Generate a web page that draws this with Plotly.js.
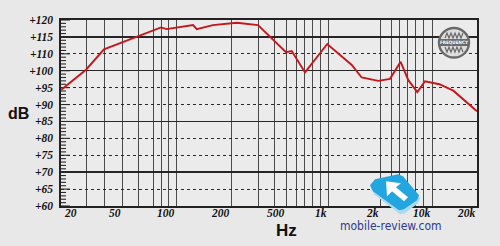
<!DOCTYPE html>
<html><head><meta charset="utf-8">
<script src="https://cdn.plot.ly/plotly-3.0.1.min.js"></script>
<style>html,body{margin:0;padding:0;background:#e8e8e8;}#chart{width:500px;height:246px;}</style>
</head><body><div id="chart"></div>
<script>
// ---- data ----
const freqHz  = [20,30,40,60,80,88,100,124,130,159,218,300,500,555,712,990,1372,1567,1955,2890,4190,5150,6520,8400,11190,13880,20000];
const levelDb = [94.3,100.6,111.3,115.3,117.8,117.3,117.7,118.5,117.3,118.5,119.2,118.5,110.5,110.8,99.5,112.9,103.4,98.0,97.0,97.6,105.3,97.2,93.7,96.9,96.0,94.1,88.0];

// printed frequency paper: gridline frequencies and their place along the (non-uniform) scale
const xGridHz  = [20,30,40,50,60,70,80,90,100,200,300,400,500,600,700,800,900,1000,2000,3000,4000,5000,6000,8000,10000,20000];
const xGridPos = [0,25,43,61,77,92,100,107,115,170,197,213,225,235,243,251,259,267,319,330,338,346,354,362,371,416];
const xLabelHz   = [20,50,100,200,500,1000,2000,10000,20000];
const xLabelText = ['20','50','100','200','500','1k','2k','10k','20k'];

// printed level scale (note: the paper skips +105)
const yTickDb    = [60,65,70,75,80,85,90,95,100,110,115,120];
const yTickText  = ['+60','+65','+70','+75','+80','+85','+90','+95','+100','+110','+115','+120'];
const ySolidDb   = [60,70,85,100,115,120];
const yDottedDb  = [65,75,80,90,95,110];
const yMinorPerStep = 5;

// ---- scales of the printed paper ----
function xScale(f){
  for(let i=0;i<xGridHz.length-1;i++){
    if(f<=xGridHz[i+1]||i===xGridHz.length-2){
      const t=Math.log(f/xGridHz[i])/Math.log(xGridHz[i+1]/xGridHz[i]);
      return xGridPos[i]+t*(xGridPos[i+1]-xGridPos[i]);
    }
  }
}
function yScale(v){
  for(let i=0;i<yTickDb.length-1;i++){
    if(v<=yTickDb[i+1]||i===yTickDb.length-2){
      return i+(v-yTickDb[i])/(yTickDb[i+1]-yTickDb[i]);
    }
  }
}

const serif = {family:'Liberation Serif, Times New Roman, Times, serif', size:11.5, color:'#111', style:'italic', weight:'bold'};
const yr=[0,yTickDb.length-1], xr=[0,xGridPos[xGridPos.length-1]];

// tick marks of the printed level scale (left edge), built from the scale itself
const tickX=[], tickY=[];
for(let k=0;k<=(yTickDb.length-1)*yMinorPerStep;k++){
  const major=k%yMinorPerStep===0;
  tickX.push(0, major?9:5, null);
  tickY.push(k/yMinorPerStep, k/yMinorPerStep, null);
}

const dummy = ax=>({x:[],y:[],yaxis:ax,showlegend:false,hoverinfo:'skip'});
const traces=[
  dummy('y'),dummy('y2'),
  {x:tickX,y:tickY,yaxis:'y3',mode:'lines',line:{color:'#2a2a2a',width:1.1},showlegend:false,hoverinfo:'skip',connectgaps:false},
  {x:freqHz.map(xScale),y:levelDb.map(yScale),yaxis:'y3',mode:'lines',
   line:{color:'#c3171c',width:1.9},showlegend:false,hoverinfo:'skip'}
];

// helpers for decoration placement (paper coordinates)
const PX=x=>(x-61)/416, PY=y=>(205.7-y)/185.7;
function path(pts){return 'M '+pts.map(p=>PX(p[0]).toFixed(4)+' '+PY(p[1]).toFixed(4)).join(' L ')+' Z';}
function line(pts){return 'M '+pts.map(p=>PX(p[0]).toFixed(4)+' '+PY(p[1]).toFixed(4)).join(' L ');}

const shapes=[
  // watermark icon
  {type:'path',xref:'paper',yref:'paper',path:path([[371,188],[376,182],[399,177],[404,179],[420,198],[418,203],[405,213],[400,214],[374,194]]),fillcolor:'#acdaf2',line:{width:0}},
  {type:'path',xref:'paper',yref:'paper',path:path([[370,185],[375,179],[398,174],[403,176],[419,195],[417,200],[404,209],[399,210],[373,191]]),fillcolor:'#23a5df',line:{width:0}},
  {type:'path',xref:'paper',yref:'paper',path:path([[386,181],[401,183],[396,187],[408,197],[404,201],[392,191],[387,196]]),fillcolor:'#ffffff',line:{width:0}},
  // frequency logo
  {type:'circle',xref:'paper',yref:'paper',x0:PX(439),x1:PX(469),y0:PY(57.5),y1:PY(28),line:{color:'#6a6a6a',width:2.4},fillcolor:'#dedede'},
  {type:'rect',xref:'paper',yref:'paper',x0:PX(440),x1:PX(468),y0:PY(46),y1:PY(39),line:{width:0},fillcolor:'#6a6a6a'},
  {type:'path',xref:'paper',yref:'paper',path:line([[445,38],[447,33],[449,38],[451,33],[453,38],[455,33],[457,38],[459,33],[461,38],[463,33]]),line:{color:'#6a6a6a',width:1.2}},
  {type:'path',xref:'paper',yref:'paper',path:line([[445,47],[447,52],[449,47],[451,52],[453,47],[455,52],[457,47],[459,52],[461,47],[463,52]]),line:{color:'#6a6a6a',width:1.2}}
];

// frequency labels: printed just left of their gridline (the first one just right of it)
const annotations = xLabelHz.map((f,i)=>({
  text:xLabelText[i],xref:'x',yref:'paper',x:xScale(f),y:PY(213),
  xanchor:i===0?'left':'right',yanchor:'middle',xshift:1,showarrow:false,font:serif
}));
annotations.push(
  {text:'dB',xref:'paper',yref:'paper',x:PX(18.5),y:PY(113),xanchor:'center',yanchor:'middle',showarrow:false,
   font:{family:'Liberation Sans, Arial, sans-serif',size:16,color:'#111',weight:'bold'}},
  {text:'Hz',xref:'paper',yref:'paper',x:PX(286),y:PY(230),xanchor:'center',yanchor:'middle',showarrow:false,
   font:{family:'Liberation Sans, Arial, sans-serif',size:17,color:'#111',weight:'bold'}},
  {text:'mobile-review.com',xref:'paper',yref:'paper',x:PX(391),y:PY(226),xanchor:'center',yanchor:'middle',showarrow:false,
   font:{family:'Liberation Sans Narrow, DejaVu Sans Condensed, sans-serif',size:12,color:'#2e3a8c'}},
  {text:'FREQUENCY',xref:'paper',yref:'paper',x:PX(454),y:PY(42.5),xanchor:'center',yanchor:'middle',showarrow:false,
   font:{family:'DejaVu Sans Condensed, sans-serif',size:4.6,color:'#fff',weight:'bold'}}
);

const common={overlaying:'y',anchor:'x',range:yr,zeroline:false,fixedrange:true,showticklabels:false,ticks:''};
const layout={
  width:500,height:246,
  margin:{l:61,r:23,t:20,b:40,pad:0},
  paper_bgcolor:'#e8e8e8',plot_bgcolor:'#ebebeb',
  showlegend:false,
  xaxis:{range:xr,tickmode:'array',tickvals:xGridHz.map(xScale),showticklabels:false,
    showgrid:true,gridcolor:'#4a4a4a',gridwidth:1,zeroline:false,
    showline:true,mirror:true,linecolor:'#222',linewidth:1.6,ticks:'',fixedrange:true},
  yaxis:{range:yr,tickmode:'array',tickvals:yTickDb.map(yScale),ticktext:yTickText,
    showgrid:false,zeroline:false,showline:true,mirror:true,linecolor:'#222',linewidth:1.6,
    ticks:'',tickfont:serif,ticklabelstandoff:4,fixedrange:true},
  yaxis2:Object.assign({},common,{tickmode:'array',tickvals:ySolidDb.map(yScale),
    showgrid:true,gridcolor:'#262626',gridwidth:1.4}),
  yaxis3:Object.assign({},common,{tickmode:'array',tickvals:yDottedDb.map(yScale),
    showgrid:true,gridcolor:'#2a2a2a',gridwidth:1,griddash:'dot'}),
  shapes:shapes,
  annotations:annotations
};
Plotly.newPlot('chart',traces,layout,{staticPlot:true,displayModeBar:false});
</script></body></html>
